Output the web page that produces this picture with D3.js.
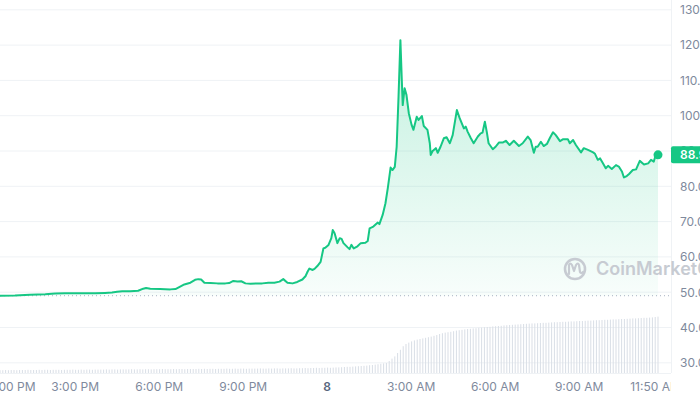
<!DOCTYPE html>
<html><head><meta charset="utf-8">
<script src="https://cdn.jsdelivr.net/npm/d3@7"></script>
<style>
html,body{margin:0;padding:0;background:#fff;overflow:hidden}
svg{display:block;font-family:Inter,"Noto Sans",sans-serif}
</style></head><body>
<svg id="chart" width="700" height="400"></svg>
<script>
// ---- data ----
// minutes after the first sample (12:20 PM, day 7)
const priceMinutes = [0,32,64,97,118,139,172,204,225,240,
251,262,279,296,307,313,322,343,365,376,
386,395,408,418,425,431,438,451,466,483,
491,500,509,517,526,537,549,562,575,588,
599,607,616,627,637,648,655,659,663,670,
674,680,687,693,697,704,710,713,717,723,
728,732,736,745,749,753,758,766,773,783,
788,792,800,809,813,820,826,831,837,841,
846,850,854,858,861,863,867,871,876,882,
886,893,897,904,908,916,921,923,927,934,
938,944,951,957,964,970,979,985,994,998,
1002,1009,1015,1024,1030,1034,1039,1043,1047,1056,
1062,1069,1077,1084,1092,1101,1112,1120,1131,1137,
1144,1148,1152,1159,1165,1172,1178,1185,1191,1200,
1206,1217,1221,1228,1234,1245,1251,1260,1271,1275,
1281,1286,1292,1298,1303,1311,1320,1326,1333,1337,
1343,1348,1356,1363,1371,1380,1389,1395,1401,1404,
1410];
const priceValues = [49.0,49.1,49.3,49.4,49.6,49.7,49.7,49.7,49.8,49.9,
50.1,50.3,50.3,50.4,51.0,51.2,51.0,50.9,50.8,50.9,
51.6,52.2,52.7,53.5,53.7,53.6,52.7,52.6,52.5,52.5,
52.6,53.2,53.0,53.1,52.5,52.4,52.5,52.5,52.7,52.7,
53.0,53.7,52.7,52.5,52.9,53.6,54.6,55.8,56.7,56.3,
56.6,57.4,58.6,62.4,62.6,63.4,65.3,67.6,66.7,63.9,
65.3,65.1,63.9,62.7,62.2,63.4,62.4,63.0,63.9,64.0,
64.5,68.1,68.6,69.7,69.3,71.9,75.2,79.5,85.3,84.6,
85.5,91.2,105.4,121.4,110.1,103.0,107.8,105.9,100.7,97.4,
96.0,99.7,98.8,99.9,97.1,96.0,92.2,88.9,90.0,90.8,
89.5,91.2,93.6,93.9,92.2,94.5,101.6,99.3,96.4,96.9,
95.5,93.6,92.2,94.1,95.0,95.2,98.3,95.5,92.2,90.5,
91.2,92.4,92.4,92.9,91.7,92.9,91.4,92.2,94.1,93.1,
89.5,91.2,91.2,92.6,91.4,92.0,93.6,95.3,94.5,92.8,
93.3,93.3,92.2,93.1,91.7,89.6,90.8,90.3,89.6,89.2,
87.5,87.9,86.5,85.1,85.8,84.9,86.0,85.6,84.1,82.5,
82.9,83.5,84.6,84.8,87.2,86.2,86.5,87.5,87.0,88.4,
88.92];
const volumeStepMinutes = 6;
const volumeValues = [1.4,1.4,1.5,1.4,1.5,1.5,1.4,1.5,1.5,1.5,1.6,1.5,
1.5,1.5,1.6,1.5,1.6,1.6,1.5,1.6,1.6,1.6,1.5,1.6,
1.6,1.6,1.7,1.6,1.6,1.7,1.6,1.7,1.7,1.6,1.7,1.7,
1.7,1.7,1.8,1.7,1.8,1.8,1.7,1.8,1.8,1.8,1.8,1.9,
1.8,1.8,1.9,1.8,1.9,1.9,1.8,1.9,1.9,1.9,2.0,1.9,
1.9,1.9,2.0,1.9,2.0,2.0,1.9,2.0,2.0,2.0,2.0,2.1,
2.0,2.1,2.0,2.1,2.1,2.0,2.1,2.1,2.1,2.2,2.1,2.1,
2.2,2.1,2.2,2.2,2.1,2.2,2.2,2.2,2.2,2.3,2.2,2.2,
2.3,2.2,2.3,2.3,2.2,2.3,2.3,2.3,2.4,2.3,2.3,2.4,
2.4,2.5,2.4,2.5,2.5,2.6,2.5,2.6,2.6,2.7,2.6,2.7,2.8,2.8,
2.9,3.0,3.1,3.1,3.2,3.3,3.4,3.5,3.6,3.7,3.9,4.0,4.2,4.4,4.6,
4.8,5.0,6.0,7.2,8.3,10.0,11.6,13.4,14.5,15.2,15.8,
16.3,16.7,17.0,17.3,17.6,17.9,18.2,18.6,19.0,19.5,19.9,20.2,20.4,20.6,20.9,21.2,21.4,21.6,21.8,22.0,
22.1,22.3,22.4,22.6,22.7,22.9,23.0,23.1,23.3,23.4,23.5,23.6,23.8,23.9,24.0,24.1,24.2,24.3,24.4,24.5,
24.6,24.7,24.8,24.8,24.9,25.0,25.1,25.1,25.2,25.3,25.4,25.4,25.5,25.6,25.6,25.7,25.8,25.8,25.9,26.0,26.0,26.1,26.2,26.2,
26.3,26.4,26.4,26.5,26.6,26.6,26.7,26.8,26.8,26.9,27.0,27.0,27.1,27.2,27.3,27.3,27.4,27.5,27.6,27.6,27.7,27.8,28.0,28.2];
const priceTicks = [30,40,50,60,70,80,90,100,110,120,130];
const timeTickMinutes = [-20,160,340,520,700,880,1060,1240,1410];
const timeTickLabels = ["12:00 PM","3:00 PM","6:00 PM","9:00 PM","8","3:00 AM","6:00 AM","9:00 AM","11:50 AM"];
const openPrice = priceValues[0];

// ---- scales ----
const base = new Date(2024, 6, 7, 12, 20);
const t = m => new Date(base.getTime() + m * 60000);
const plotRight = 671, plotBottom = 373;
const x = d3.scaleTime().domain([t(0), t(1410)]).range([0, 658]);
const y = d3.scaleLinear().domain([30, 130]).range([362.8, 9.8]);
const yv = d3.scaleLinear().domain([0, 30]).range([plotBottom, plotBottom - 60]);

const prices = priceMinutes.map((m, i) => ({ t: t(m), v: priceValues[i] }));
const vols = volumeValues.map((v, i) => ({ t: t(i * volumeStepMinutes), v }));

const svg = d3.select('#chart');
const defs = svg.append('defs');
const grad = defs.append('linearGradient').attr('id', 'fillGrad')
  .attr('gradientUnits', 'userSpaceOnUse')
  .attr('x1', 0).attr('x2', 0).attr('y1', y(122)).attr('y2', y(openPrice));
grad.append('stop').attr('offset', 0).attr('stop-color', '#16c784').attr('stop-opacity', 0.26);
grad.append('stop').attr('offset', 1).attr('stop-color', '#16c784').attr('stop-opacity', 0.03);
defs.append('clipPath').attr('id', 'xClip').append('rect')
  .attr('x', 0).attr('y', plotBottom).attr('width', plotRight).attr('height', 400 - plotBottom);

// gridlines
svg.append('g').selectAll('line').data(priceTicks).join('line')
  .attr('x1', 0).attr('x2', plotRight)
  .attr('y1', d => y(d)).attr('y2', d => y(d))
  .attr('stroke', '#eff2f5').attr('stroke-width', 1);

// right boundary + bottom line
svg.append('line').attr('x1', plotRight + 0.5).attr('x2', plotRight + 0.5)
  .attr('y1', 0).attr('y2', plotBottom).attr('stroke', '#eff2f5');
svg.append('line').attr('x1', 0).attr('x2', plotRight)
  .attr('y1', plotBottom + 0.5).attr('y2', plotBottom + 0.5).attr('stroke', '#eff2f5');

// volume bars
svg.append('g').selectAll('rect').data(vols).join('rect')
  .attr('x', d => x(d.t) - 0.5).attr('width', 1)
  .attr('y', d => yv(d.v)).attr('height', d => yv(0) - yv(d.v))
  .attr('fill', '#d9dee6');

// area
svg.append('path').datum(prices)
  .attr('d', d3.area().x(d => x(d.t)).y0(y(openPrice)).y1(d => y(d.v)))
  .attr('fill', 'url(#fillGrad)');

// dotted open-price line
svg.append('line').attr('x1', 0).attr('x2', plotRight)
  .attr('y1', y(openPrice)).attr('y2', y(openPrice))
  .attr('stroke', '#a7b1c2').attr('stroke-width', 1).attr('stroke-dasharray', '1,3');

// watermark
const wm = svg.append('g').attr('fill', 'none').attr('stroke', '#c7cbd2');
wm.append('circle').attr('cx', 575).attr('cy', 269).attr('r', 10).attr('stroke-width', 2.6);
wm.append('path').attr('d', 'M569,274 L569,265 Q570,262 572,265 L574,271 L576,265 Q578,262 579,265 L580,272 Q581,274 583,272')
  .attr('stroke-width', 2.2).attr('stroke-linecap', 'round').attr('stroke-linejoin', 'round');
svg.append('text').attr('x', 596).attr('y', 275).text('CoinMarketCap')
  .attr('font-size', 18).attr('font-weight', 600).attr('fill', '#c7cbd2');

// price line
svg.append('path').datum(prices)
  .attr('d', d3.line().x(d => x(d.t)).y(d => y(d.v)))
  .attr('fill', 'none').attr('stroke', '#16c784').attr('stroke-width', 2)
  .attr('stroke-linejoin', 'round').attr('stroke-linecap', 'round');

const last = prices[prices.length - 1];
svg.append('circle').attr('cx', x(last.t)).attr('cy', y(last.v)).attr('r', 4.5).attr('fill', '#16c784');

// right axis
const yAxis = svg.append('g').attr('transform', `translate(${plotRight},0)`)
  .call(d3.axisRight(y).tickValues(priceTicks).tickSize(0).tickPadding(9).tickFormat(d3.format('.2f')));
yAxis.select('.domain').remove();
yAxis.selectAll('text').attr('font-size', 12).attr('fill', '#808a9d').attr('font-family', 'Inter,"Noto Sans",sans-serif');

// current price tag
svg.append('rect').attr('x', plotRight).attr('y', y(last.v) - 8.5).attr('width', 40).attr('height', 17)
  .attr('rx', 2).attr('fill', '#16c784');
svg.append('text').attr('x', plotRight + 9).attr('y', y(last.v)).attr('dy', '0.35em')
  .attr('font-size', 12).attr('font-weight', 600).attr('fill', '#fff').text(d3.format('.2f')(last.v));

// bottom axis (labels clipped to the plot width)
const xAxis = svg.append('g').attr('clip-path', 'url(#xClip)')
  .append('g').attr('transform', `translate(0,${plotBottom})`)
  .call(d3.axisBottom(x).tickValues(timeTickMinutes.map(t)).tickSize(0).tickPadding(9)
    .tickFormat((d, i) => timeTickLabels[i]));
xAxis.select('.domain').remove();
xAxis.selectAll('text').attr('font-size', 12).attr('font-family', 'Inter,"Noto Sans",sans-serif')
  .attr('dx', (d, i) => i === 0 ? 18 : (i === timeTickLabels.length - 1 ? -3 : 0))
  .attr('font-weight', (d, i) => timeTickLabels[i] === '8' ? 600 : 400)
  .attr('fill', (d, i) => timeTickLabels[i] === '8' ? '#58667e' : '#808a9d');
</script>
</body></html>
